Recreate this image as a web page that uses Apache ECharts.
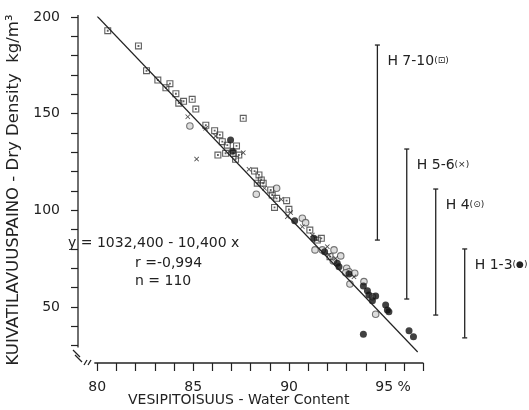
<!DOCTYPE html>
<html><head><meta charset="utf-8">
<script src="https://cdn.jsdelivr.net/npm/echarts@6/dist/echarts.min.js"></script>
<style>html,body{margin:0;padding:0;background:#fff}#c{width:529px;height:410px}</style>
</head><body><div id="c"></div>
<script>
// ---- data ----
const xTicks = [80,81,82,83,84,85,86,87,88,89,90,91,92,93,94,95,96,97];
const xLabels = [80,85,90,95];
const yTicks = [30,40,50,60,70,80,90,100,110,120,130,140,150,160,170,180,190,200];
const yLabels = [50,100,150,200];
const regressionLine = [[80,200.4],[96.7,26.7]];
// H 7-10 (squares)
const h710 = [[80.55,192.9],[82.15,185.0],[82.57,172.2],[83.16,167.4],[83.58,163.4],[83.79,165.5],[84.10,160.3],[84.25,155.4],[84.50,156.4],[84.95,157.4],[85.14,152.4],[85.66,144.0],[86.12,141.2],[86.39,139.0],[86.52,135.5],[86.78,133.7],[87.61,147.6],[87.26,133.3],[86.29,128.6],[86.69,129.5],[87.09,129.5],[87.38,128.6],[87.21,126.4],[88.20,120.3],[88.43,118.3],[88.55,115.7],[88.34,114.0],[88.65,114.0],[89.04,110.5],[89.12,107.9],[89.35,106.2],[89.24,101.5],[89.87,105.0],[89.99,100.5],[91.08,89.8],[91.47,84.6],[91.68,85.5],[92.13,76.0]];
// H 5-6 (crosses)
const h56 = [[84.72,148.4],[85.65,142.4],[86.17,138.4],[87.61,129.8],[85.18,126.5],[87.91,121.2],[88.72,111.4],[89.59,105.7],[89.91,96.7],[90.08,98.8],[90.69,91.5],[91.21,87.2],[91.99,81.2],[92.08,76.9],[92.42,75.2],[93.38,65.6]];
// H 4 (open circles)
const h4 = [[84.83,143.6],[88.29,108.3],[89.35,111.4],[90.69,95.9],[90.86,93.6],[91.35,79.5],[91.73,79.5],[92.34,79.5],[92.30,73.8],[92.69,76.4],[93.00,70.0],[93.12,68.2],[92.95,67.7],[93.42,67.4],[93.17,61.9],[93.90,63.1],[94.34,55.3],[94.51,46.2]];
// H 1-3 (solid dots)
const h13 = [[86.95,136.4],[87.05,130.5],[90.29,94.6],[91.29,85.5],[91.85,78.6],[92.51,72.6],[92.60,70.8],[93.12,67.0],[93.87,60.8],[94.08,58.4],[94.16,56.2],[94.34,53.2],[94.51,55.7],[95.03,51.0],[95.12,48.4],[95.20,47.5],[93.87,35.9],[96.25,37.7],[96.48,34.6]];
// humification range bars
const rangeNames = ['H 7-10','H 5-6','H 4','H 1-3'];
const rangeSymbols = ['(⊡)','(×)','(⊙)','(●)'];
const rangeX = [94.6,96.13,97.64,99.15];
const rangeLow = [84.6,54.1,45.8,34.0];
const rangeHigh = [185.5,131.7,111.0,80.0];
const equationLines = ['y = 1032,400 - 10,400 x','r =-0,994','n = 110'];
const xTitle = 'VESIPITOISUUS - Water Content';
const yTitle = 'KUIVATILAVUUSPAINO - Dry Density  kg/m³';

const X_MIN = 79, X_MAX = 102.5, Y_MIN = 21, Y_MAX = 200;
const Y_LINE_BOTTOM = 30, X_LINE_START = 79.85, X_LINE_END = 97;
const FONT = 'DejaVu Sans';
const INK = '#222';
const squareSym = 'path://M0,0H10V10H0ZM1.6,1.6V8.4H8.4V1.6ZM3.7,3.7H6.3V6.3H3.7Z';
const crossSym = 'path://M0,1.2L1.2,0L5,3.8L8.8,0L10,1.2L6.2,5L10,8.8L8.8,10L5,6.2L1.2,10L0,8.8L3.8,5Z';

const chart = echarts.init(document.getElementById('c'), null, {renderer:'canvas'});
chart.setOption({
  animation:false,
  backgroundColor:'#fff',
  grid:{left:78, right:0, top:17, bottom:47, containLabel:false, outerBoundsMode:'none'},
  xAxis:{type:'value', min:X_MIN, max:X_MAX,
    axisLine:{show:false}, splitLine:{show:false},
    axisTick:{show:true, customValues:xTicks, length:8, lineStyle:{color:INK, width:1.2}},
    axisLabel:{customValues:xLabels, margin:17, color:INK, fontFamily:FONT, fontSize:14,
      formatter:v => v===95 ? '{pad|}{n|95 %}' : String(v),
      rich:{pad:{width:16}, n:{fontFamily:FONT, fontSize:14, color:INK}}}
  },
  yAxis:{type:'value', min:Y_MIN, max:Y_MAX,
    axisLine:{show:false}, splitLine:{show:false},
    axisTick:{show:true, customValues:yTicks, length:7, lineStyle:{color:INK, width:1.2}},
    axisLabel:{customValues:yLabels, margin:18, color:INK, fontFamily:FONT, fontSize:14},
    name:yTitle, nameLocation:'middle', nameRotate:90, nameGap:47,
    nameTextStyle:{fontFamily:FONT, fontSize:16.5, color:INK}
  },
  graphic:[
    {type:'text', left:128, top:393, style:{text:xTitle, font:'14px "DejaVu Sans"', fill:INK}},
    {type:'text', left:68, top:236, style:{text:equationLines[0], font:'14px "DejaVu Sans"', fill:INK}},
    {type:'text', left:135, top:256, style:{text:equationLines[1], font:'14px "DejaVu Sans"', fill:INK}},
    {type:'text', left:135, top:274, style:{text:equationLines[2], font:'14px "DejaVu Sans"', fill:INK}}
  ],
  series:[
    {type:'custom', name:'frame', silent:true, data:[[0]],
      renderItem:function(params, api){
        const yt = api.coord([X_MIN, Y_MAX]);
        const yb = api.coord([X_MIN, Y_LINE_BOTTOM]);
        const c = api.coord([X_MIN, Y_MIN]);
        const xs = api.coord([X_LINE_START, Y_MIN]);
        const xe = api.coord([X_LINE_END, Y_MIN]);
        const st = {stroke:INK, lineWidth:1.3};
        return {type:'group', children:[
          {type:'line', shape:{x1:yt[0], y1:yt[1]-2, x2:yb[0], y2:yb[1]+2}, style:st},
          {type:'line', shape:{x1:xs[0], y1:xs[1], x2:xe[0], y2:xe[1]}, style:st},
          {type:'line', shape:{x1:c[0]-5, y1:c[1]-13, x2:c[0]+2, y2:c[1]-6}, style:st},
          {type:'line', shape:{x1:c[0]-3, y1:c[1]-8, x2:c[0]+4, y2:c[1]-1}, style:st},
          {type:'line', shape:{x1:c[0]+6, y1:c[1]+2, x2:c[0]+9, y2:c[1]-3}, style:st},
          {type:'line', shape:{x1:c[0]+10, y1:c[1]+2, x2:c[0]+13, y2:c[1]-3}, style:st}
        ]};
      }
    },
    {type:'custom', name:'ranges', silent:true,
      data: rangeX.map((x,i)=>[x, rangeLow[i], rangeHigh[i], i]),
      encode:{x:0, y:[1,2]},
      renderItem:function(params, api){
        const i = api.value(3);
        const top = api.coord([api.value(0), api.value(2)]);
        const bot = api.coord([api.value(0), api.value(1)]);
        const st = {stroke:INK, lineWidth:1.3};
        return {type:'group', children:[
          {type:'line', shape:{x1:top[0], y1:top[1], x2:bot[0], y2:bot[1]}, style:st},
          {type:'line', shape:{x1:top[0]-2.5, y1:top[1], x2:top[0]+2.5, y2:top[1]}, style:st},
          {type:'line', shape:{x1:bot[0]-2.5, y1:bot[1], x2:bot[0]+2.5, y2:bot[1]}, style:st},
          {type:'text', x:top[0]+10, y:top[1]+16, style:{
            text:'{a|'+rangeNames[i]+'}{b|'+rangeSymbols[i]+'}',
            verticalAlign:'middle', align:'left',
            rich:{a:{fontFamily:FONT, fontSize:14, fill:INK}, b:{fontFamily:FONT, fontSize:9, fill:INK}}
          }}
        ]};
      }
    },
    {type:'scatter', name:'H 4', data:h4, symbol:'circle', symbolSize:6.5,
      itemStyle:{color:'#d4d4d4', borderColor:'#555', borderWidth:1.1}},
    {type:'scatter', name:'H 7-10', data:h710, symbol:squareSym, symbolSize:7,
      itemStyle:{color:'#3a3a3a'}},
    {type:'scatter', name:'H 5-6', data:h56, symbol:crossSym, symbolSize:5,
      itemStyle:{color:'#222'}},
    {type:'scatter', name:'H 1-3', data:h13, symbol:'circle', symbolSize:7,
      itemStyle:{color:'#111'}},
    {type:'line', name:'regression', data:regressionLine, symbol:'none', silent:true,
      lineStyle:{color:INK, width:1.2}, z:5}
  ]
});
</script></body></html>
